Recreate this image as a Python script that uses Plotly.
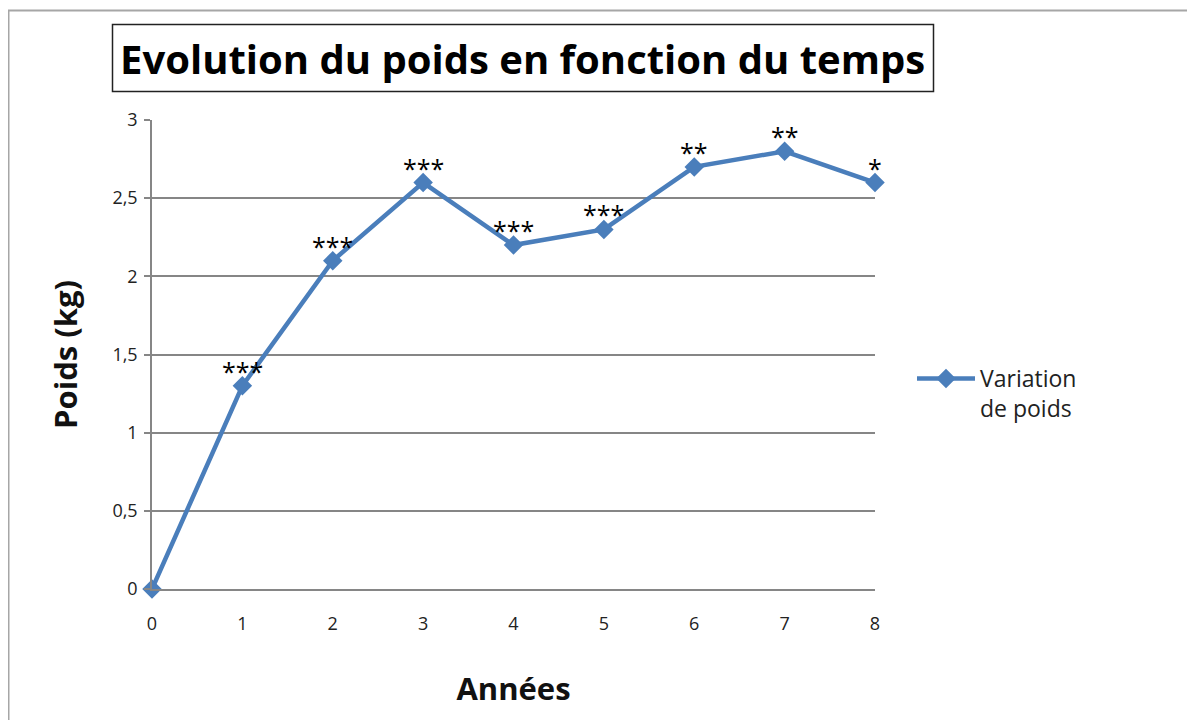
import plotly.graph_objects as go

annees = [0, 1, 2, 3, 4, 5, 6, 7, 8]
poids = [0, 1.3, 2.1, 2.6, 2.2, 2.3, 2.7, 2.8, 2.6]
significance = ["", "***", "***", "***", "***", "***", "**", "**", "*"]
y_ticks = [0, 0.5, 1, 1.5, 2, 2.5, 3]

OFF = 8  # page body margin
W, H = 1195 - OFF, 720 - OFF
L, R, T, B = 152, 875, 120, 589  # plot area in page px
pw, ph = R - L, B - T

def px_x(p):
    return (p - L) / pw

def px_y(p):
    return (B - p) / ph

FONT = "Open Sans"
BLUE = "#4A7EBB"
GRID = "#868686"

fig = go.Figure()
fig.add_trace(go.Scatter(
    x=annees, y=poids, mode="lines+markers", name="Variation<br>de poids",
    line=dict(color=BLUE, width=4.5),
    marker=dict(symbol="diamond", size=15, color=BLUE),
    cliponaxis=False,
))

annotations = [
    dict(text="<b>Evolution du poids en fonction du temps</b>", xref="paper", yref="paper",
         x=px_x(522.5), y=px_y(58), xanchor="center", yanchor="middle", showarrow=False,
         font=dict(family=FONT, size=40, color="black")),
]
for xv, yv, s in zip(annees, poids, significance):
    if s:
        annotations.append(dict(
            x=xv, y=yv, xref="x", yref="y", text=s, showarrow=False,
            xanchor="center", yanchor="middle", yshift=15,
            font=dict(family=FONT, size=25, color="black"),
        ))

fig.update_layout(
    width=W, height=H,
    margin=dict(l=L - OFF, r=W - (R - OFF), t=T - OFF, b=H - (B - OFF), autoexpand=False),
    plot_bgcolor="white", paper_bgcolor="white",
    separators=", ",
    font=dict(family=FONT, color="#333333"),
    xaxis=dict(
        range=[0, 8], tickvals=annees, showgrid=False, zeroline=False,
        showline=True, linecolor=GRID, linewidth=1.5,
        ticks="", tickfont=dict(size=18, color="#222222"), ticklabelstandoff=18,
        title=dict(text="<b>Années</b>", font=dict(size=31, color="#111111"), standoff=44),
    ),
    yaxis=dict(
        range=[0, 3], tickvals=y_ticks, showgrid=True, gridcolor=GRID, gridwidth=1.5,
        zeroline=False, showline=True, linecolor=GRID, linewidth=1.5,
        ticks="outside", ticklen=6, tickcolor=GRID, tickwidth=1.5,
        tickfont=dict(size=18, color="#222222"), ticklabelstandoff=3,
        title=dict(text="<b>Poids (kg)</b>", font=dict(size=31, color="#111111"), standoff=26),
    ),
    legend=dict(
        x=px_x(912), y=px_y(357), xanchor="left", yanchor="top",
        font=dict(family=FONT, size=23, color="#222222"), valign="top",
        itemwidth=58, bgcolor="rgba(0,0,0,0)",
    ),
    showlegend=True,
    shapes=[
        dict(type="rect", xref="paper", yref="paper",
             x0=px_x(8.5), x1=px_x(1300), y0=px_y(10.5), y1=px_y(800),
             line=dict(color="#A6A6A6", width=2), layer="below"),
        dict(type="rect", xref="paper", yref="paper",
             x0=px_x(112.5), x1=px_x(933.5), y0=px_y(24.5), y1=px_y(91.5),
             line=dict(color="#222222", width=1.5)),
    ],
    annotations=annotations,
)

fig.write_html("out.html")
